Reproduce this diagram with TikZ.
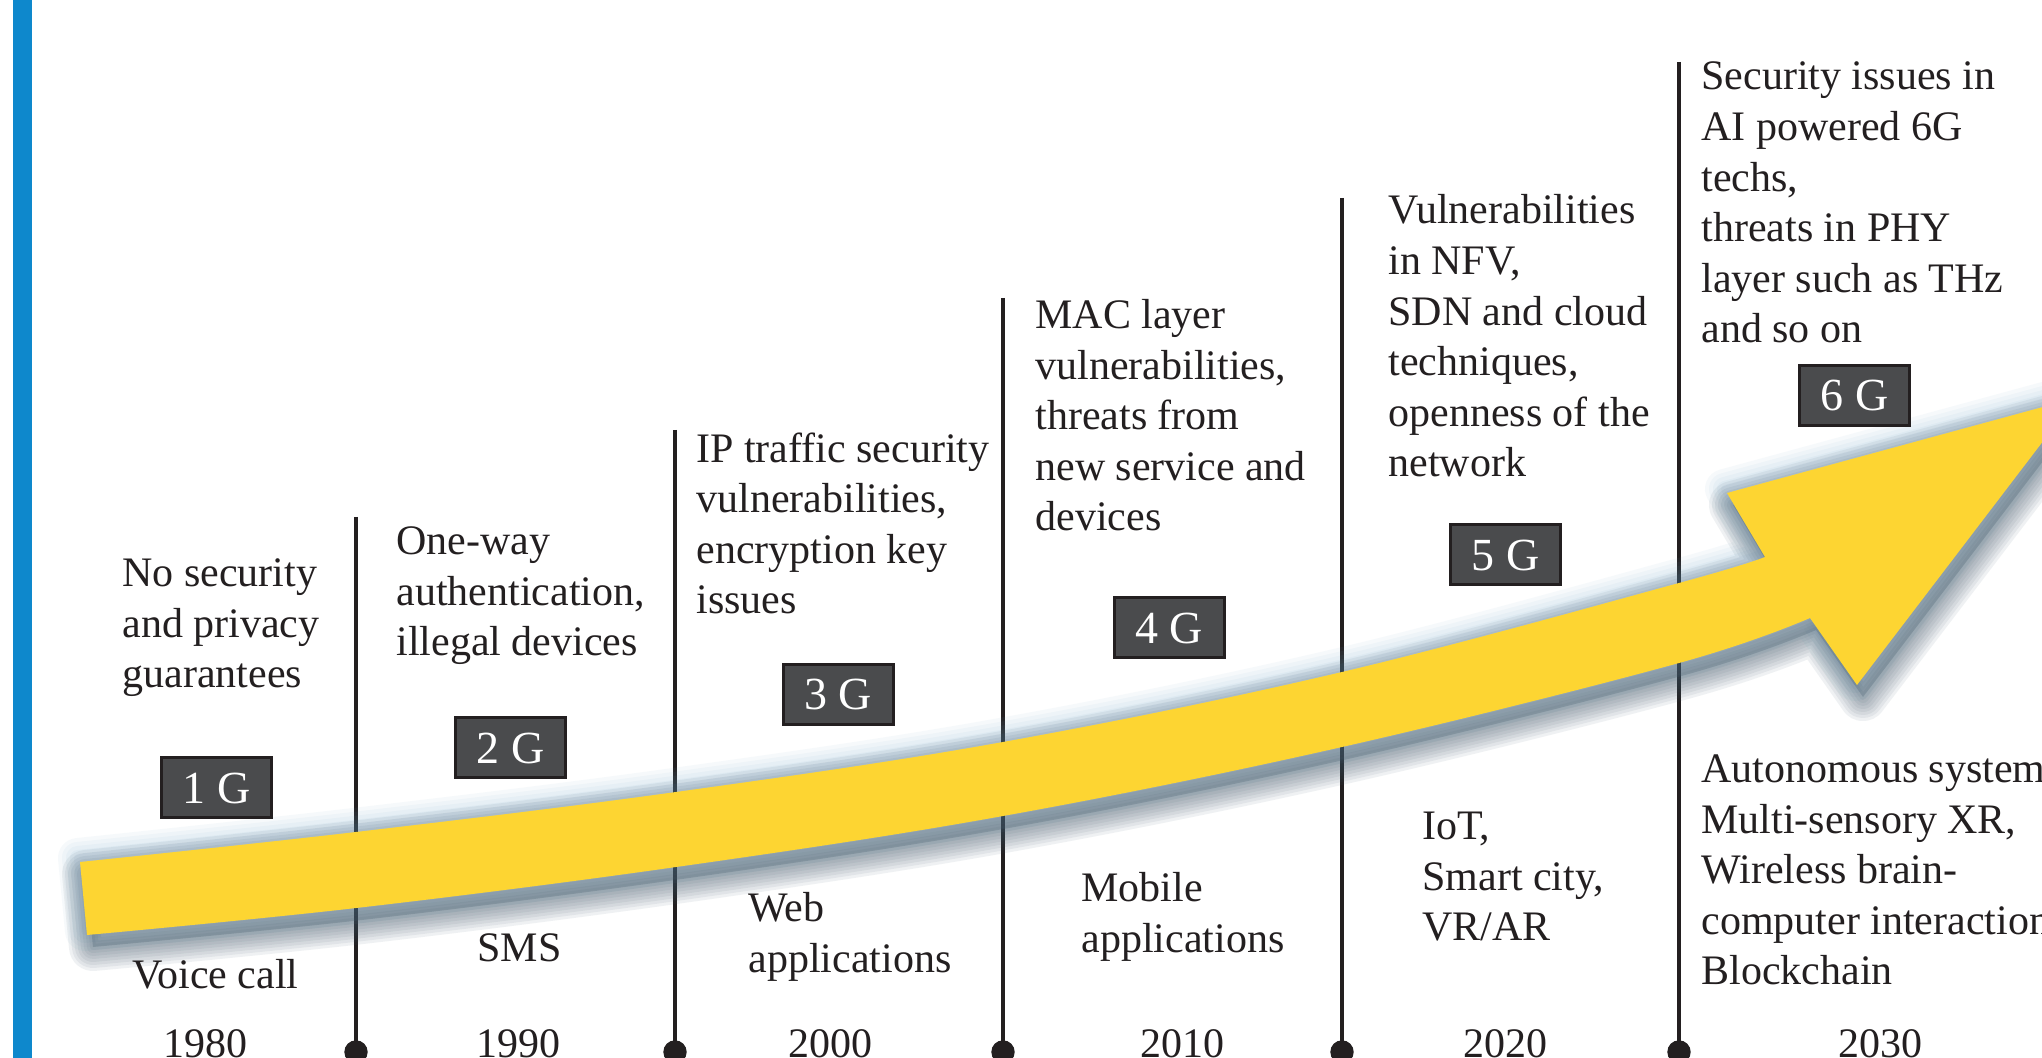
\documentclass[tikz,border=0pt]{standalone}
\usepackage{fontspec}
\setmainfont{Liberation Serif}

\definecolor{ink}{RGB}{35,31,32}
\definecolor{sidebar}{RGB}{14,136,204}
\definecolor{bandyellow}{RGB}{253,213,50}
\definecolor{shadowc}{RGB}{62,86,104}
\definecolor{glowc}{RGB}{110,165,200}
\definecolor{genfill}{RGB}{74,75,77}

% the rising band with its arrow head (units: x=0.5pt, y=-0.5pt)
\newcommand\bandshape[1]{%
  \path[#1] (80,862)
    -- plot[smooth, tension=0.6] coordinates {(80,862) (356,832) (676,792) (1003,742) (1342,672) (1679,583) (1765,557)}
    -- (1727,493) -- (2076,398) -- (1857,685) -- (1810,618)
    -- plot[smooth, tension=0.6] coordinates {(1810,618) (1679,663) (1342,747) (1003,816) (676,867) (356,908) (87,935)}
    -- cycle;}

\begin{document}
\begin{tikzpicture}[x=0.5pt, y=-0.5pt,
  % multi-line texts are placed by the baseline of their last line
  body/.style={anchor=base west, align=left, inner sep=0pt, text=ink,
    font=\fontsize{21}{25.3}\selectfont},
  year/.style={anchor=base, inner sep=0pt, text=ink,
    font=\fontsize{21}{25.3}\selectfont},
  genbox/.style={draw=ink, line width=1.5pt, fill=genfill, text=white,
    minimum width=55pt, minimum height=30pt, inner sep=0pt,
    font=\fontsize{23}{27}\selectfont},
  tick/.style={draw=ink, line width=2pt},
  tickdot/.style={circle, fill=ink, minimum size=11.7pt, inner sep=0pt}]

\clip (0,0) rectangle (2042,1058);
\fill[white] (0,0) rectangle (2042,1058);
\fill[sidebar] (13,0) rectangle (32,1058);

% decade ticks
\coordinate (top1) at (356,517);
\coordinate (top2) at (675,430);
\coordinate (top3) at (1003,298);
\coordinate (top4) at (1342,198);
\coordinate (top5) at (1679,62);
\node[tickdot] (dot1) at (356,1052) {};
\node[tickdot] (dot2) at (675,1052) {};
\node[tickdot] (dot3) at (1003,1052) {};
\node[tickdot] (dot4) at (1342,1052) {};
\node[tickdot] (dot5) at (1679,1052) {};
\draw[tick] (top1) -- (dot1.center);
\draw[tick] (top2) -- (dot2.center);
\draw[tick] (top3) -- (dot3.center);
\draw[tick] (top4) -- (dot4.center);
\draw[tick] (top5) -- (dot5.center);

% pale blue halo around the band
\foreach \w in {4pt,8pt,12pt,16pt,20pt} {
  \bandshape{shift={(-2,-4)}, draw=glowc, line width=\w, line join=round, opacity=0.06}
}
% soft drop shadow of the band, built from stacked translucent strokes
\foreach \w in {3pt,6pt,9pt,12pt,15pt,18pt,21pt,24pt} {
  \bandshape{shift={(6,12)}, draw=shadowc, line width=\w, line join=round, opacity=0.08}
}
\bandshape{shift={(6,12)}, fill=shadowc, opacity=0.25}
\bandshape{fill=bandyellow}

% generation labels
\node[genbox] (g1) at (216.5,788) {1 G};
\node[genbox] (g2) at (510.5,748) {2 G};
\node[genbox] (g3) at (838,694.5) {3 G};
\node[genbox] (g4) at (1169,628) {4 G};
\node[genbox] (g5) at (1505.5,555) {5 G};
\node[genbox] (g6) at (1854.5,395.5) {6 G};

% security issues of each generation
\node[body] (sec1) at (122,688) {No security\\and privacy\\guarantees};
\node[body] (sec2) at (396,656) {One-way\\authentication,\\illegal devices};
\node[body] (sec3) at (696,614) {IP traffic security\\vulnerabilities,\\encryption key\\issues};
\node[body] (sec4) at (1035,531) {MAC layer\\vulnerabilities,\\threats from\\new service and\\devices};
\node[body] (sec5) at (1388,477) {Vulnerabilities\\in NFV,\\SDN and cloud\\techniques,\\openness of the\\network};
\node[body] (sec6) at (1701,343) {Security issues in\\AI powered 6G\\techs,\\threats in PHY\\layer such as THz\\and so on};

% typical applications
\node[body] (app1) at (132,988) {Voice call};
\node[body] (app2) at (477,962) {SMS};
\node[body] (app3) at (748,972) {Web\\applications};
\node[body] (app4) at (1081,952) {Mobile\\applications};
\node[body] (app5) at (1422,941) {IoT,\\Smart city,\\VR/AR};
\node[body] (app6) at (1701,985) {Autonomous systems,\\Multi-sensory XR,\\Wireless brain-\\computer interaction,\\Blockchain};

% decades
\node[year] (y1980) at (205.5,1057) {1980};
\node[year] (y1990) at (518,1057) {1990};
\node[year] (y2000) at (830,1057) {2000};
\node[year] (y2010) at (1182,1057) {2010};
\node[year] (y2020) at (1505,1057) {2020};
\node[year] (y2030) at (1880,1057) {2030};
\end{tikzpicture}
\end{document}
